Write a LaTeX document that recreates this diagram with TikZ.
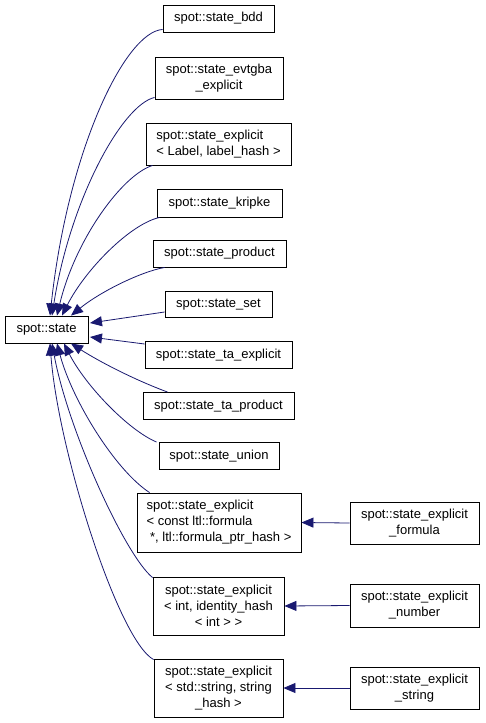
\documentclass[tikz,border=0pt]{standalone}
\usepackage{fontspec}
\setmainfont{Liberation Sans}
\usetikzlibrary{arrows.meta}
\definecolor{edgeblue}{HTML}{191970}
\tikzset{
  box/.style={draw=black, line width=0.9pt, inner sep=0pt, align=center, font=\fontsize{13}{16}\selectfont, fill=white},
  boxl/.style={box, align=left},
  edge/.style={draw=edgeblue, line width=0.8pt, -{Triangle[length=12pt,width=10pt]}},
}
\begin{document}
\begin{tikzpicture}[x=1pt,y=-1pt]
\useasboundingbox[fill=white] (0,0) rectangle (485,723);
\node[box, minimum width=83, minimum height=27] (state) at (46.5,329.5) {spot::state};
\node[box, minimum width=111, minimum height=27] (bdd) at (218.5,18.5) {spot::state\_bdd};
\node[box, minimum width=128, minimum height=42] (evt) at (219,78) {spot::state\_evtgba\\\_explicit};
\node[boxl, minimum width=145, minimum height=42] (lab) at (218.5,144) {spot::state\_explicit\\< Label, label\_hash >};
\node[box, minimum width=125, minimum height=28] (kri) at (219.5,203) {spot::state\_kripke};
\node[box, minimum width=133, minimum height=27] (prod) at (219.5,253.5) {spot::state\_product};
\node[box, minimum width=107, minimum height=26] (set) at (218.5,304.5) {spot::state\_set};
\node[box, minimum width=147, minimum height=27] (tae) at (218.5,355) {spot::state\_ta\_explicit};
\node[box, minimum width=151, minimum height=27] (tap) at (218.5,406) {spot::state\_ta\_product};
\node[box, minimum width=120, minimum height=27] (uni) at (219,456) {spot::state\_union};
\node[boxl, minimum width=164, minimum height=59] (cltl) at (219,522.5) {spot::state\_explicit\\< const ltl::formula\\\ *, ltl::formula\_ptr\_hash >};
\node[box, minimum width=131, minimum height=58] (sint) at (218.5,606) {spot::state\_explicit\\< int, identity\_hash\\< int > >};
\node[box, minimum width=129, minimum height=58] (sstr) at (218.5,688) {spot::state\_explicit\\< std::string, string\\\_hash >};
\node[box, minimum width=129, minimum height=42] (form) at (414.5,523) {spot::state\_explicit\\\_formula};
\node[box, minimum width=129, minimum height=43] (num) at (414.5,605.5) {spot::state\_explicit\\\_number};
\node[box, minimum width=129, minimum height=42] (str) at (414.5,688) {spot::state\_explicit\\\_string};

\draw[edge] ([yshift=3pt]bdd.south west) .. controls (125,32) and (68,150) .. ([xshift=3.5pt]state.north);
\draw[edge] ([yshift=2pt]evt.south west) .. controls (122,105) and (70,200) .. ([xshift=5.5pt]state.north);
\draw[edge] ([xshift=7pt]lab.south west) .. controls (122,175) and (75,240) .. ([xshift=10.5pt]state.north);
\draw[edge] ([xshift=3pt]kri.south west) .. controls (130,224) and (85,270) .. ([xshift=15.5pt]state.north);
\draw[edge] ([xshift=12pt]prod.south west) .. controls (140,272) and (100,292) .. ([xshift=24.5pt]state.north);
\draw[edge] ([yshift=-7.5pt]set.west) -- ([yshift=6.5pt,xshift=1.5pt]state.east);
\draw[edge] ([yshift=11pt]tae.west) -- ([yshift=-7.5pt,xshift=1.5pt]state.east);
\draw[edge] ([xshift=25pt]tap.north west) .. controls (135,380) and (100,362) .. ([xshift=24.5pt]state.south);
\draw[edge] ([xshift=-2pt]uni.north west) .. controls (128,430) and (85,385) .. ([xshift=17.5pt]state.south);
\draw[edge] ([xshift=13pt]cltl.north west) .. controls (115,470) and (72,400) .. ([xshift=10.5pt]state.south);
\draw[edge] ([yshift=-1pt]sint.north west) .. controls (125,555) and (68,430) .. ([xshift=5.5pt]state.south);
\draw[edge] ([yshift=-1pt]sstr.north west) .. controls (118,640) and (58,450) .. ([xshift=3.5pt]state.south);

\draw[edge] (form.west) -- (cltl.east);
\draw[edge] (num.west) -- (sint.east);
\draw[edge] (str.west) -- (sstr.east);
\end{tikzpicture}
\end{document}
